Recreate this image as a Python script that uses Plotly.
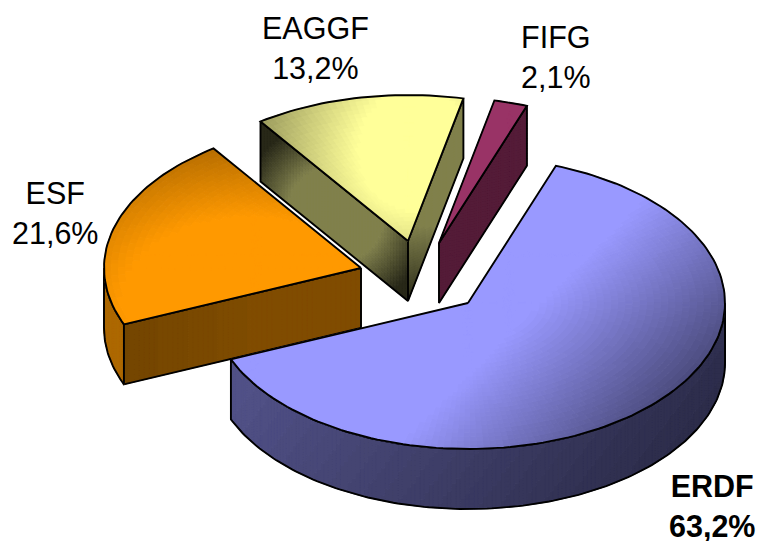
import numpy as np
import plotly.graph_objects as go

# ---- data ----
categories = ["ERDF", "ESF", "EAGGF", "FIFG"]
values = [63.2, 21.6, 13.2, 2.1]
percent_labels = ["63,2%", "21,6%", "13,2%", "2,1%"]

# ---- styling / layout ----
W, H = 757, 541
colors = {"ERDF": (0x99, 0x99, 0xFF), "ESF": (0xFF, 0x99, 0x00),
          "EAGGF": (0xFF, 0xFF, 0x99), "FIFG": (0x99, 0x33, 0x66)}
apex = {"ERDF": (468, 303), "ESF": (361, 268), "EAGGF": (408, 241), "FIFG": (439, 243)}
label_pos = {"ERDF": (712, 506), "ESF": (55, 213), "EAGGF": (315, 48), "FIFG": (556, 57)}
bold = {"ERDF": True}
RX, RY, DEPTH = 257, 146, 60
START = 20.0
LEVELS = 96
draw_order = ["EAGGF", "FIFG", "ESF", "ERDF"]


def radial(cx, cy, sx, sy, k, r0, fmin=0.15, fmax=1.0):
    def f(x, y):
        d = np.hypot((x - cx) / sx, (y - cy) / sy)
        return float(np.clip(1 - k * max(0.0, d - r0), fmin, fmax))
    return f


def linear(ax, ay, g0, span, k, top=1.0):
    def f(x, y):
        g = ax * x + ay * y
        return float(top - k * np.clip((g - g0) / span, 0, 1))
    return f


top_shade = {
    "ERDF": linear(0.7, 0.7, 590, 170, 0.55),
    "ESF": radial(250, 300, 170, 110, 0.45, 0.75),
    "EAGGF": radial(415, 150, 140, 150, 0.55, 0.4),
    "FIFG": lambda x, y: 1.0,
}
rim_shade = {
    "ERDF": linear(0.8, 0.6, 430, 400, 0.25, top=0.53),
    "ESF": radial(125, 330, 30, 60, 0.2, 0.2, fmax=0.68),
}
# first entry: face at the slice's start angle, second: face at its end angle
cut_shade = {
    "ERDF": (lambda x, y: 0.5, lambda x, y: 0.5),
    "ESF": (linear(-1, 0, -260, 140, 0.05, top=0.5), lambda x, y: 0.5),
    "EAGGF": (radial(335, 215, 80, 80, 0.6, -0.23, fmin=0.16, fmax=0.5),
              linear(0, 1, 225, 75, 0.32, top=0.5)),
    "FIFG": (lambda x, y: 0.55, lambda x, y: 0.55),
}

# ---- geometry helpers ----
total = sum(values)
spans = [v / total * 360 for v in values]
starts = START + np.concatenate([[0], np.cumsum(spans)[:-1]])
angles = {c: (s, s + sp) for c, s, sp in zip(categories, starts, spans)}


def rim(name, deg):
    ax, ay = apex[name]
    t = np.radians(deg)
    return ax + RX * np.sin(t), ay - RY * np.cos(t)


fig = go.Figure()


def add_cells(cells, base):
    """cells: list of (xs, ys, f); grouped by quantised shade so each level is one trace."""
    groups = {}
    for xs, ys, f in cells:
        groups.setdefault(int(round(f * LEVELS)), []).append((xs, ys))
    for lvl in sorted(groups):
        col = "rgb(%d,%d,%d)" % tuple(int(round(c * lvl / LEVELS)) for c in base)
        X, Y = [], []
        for xs, ys in groups[lvl]:
            X += [round(float(v), 1) for v in xs] + [round(float(xs[0]), 1), None]
            Y += [round(float(v), 1) for v in ys] + [round(float(ys[0]), 1), None]
        fig.add_trace(go.Scatter(x=X, y=Y, mode="lines", fill="toself", fillcolor=col,
                                 line=dict(color=col, width=1), hoverinfo="skip",
                                 showlegend=False))


def outline(xs, ys):
    fig.add_trace(go.Scatter(x=list(xs), y=list(ys), mode="lines",
                             line=dict(color="black", width=1.9), hoverinfo="skip",
                             showlegend=False))


def strip_cells(px, py, shade, nd=24):
    """Extruded band below the polyline px,py."""
    cells = []
    for i in range(len(px) - 1):
        for j in range(nd):
            d0, d1 = DEPTH * j / nd, DEPTH * (j + 1) / nd
            xs = [px[i], px[i + 1], px[i + 1], px[i]]
            ys = [py[i] + d0, py[i + 1] + d0, py[i + 1] + d1, py[i] + d1]
            cells.append((xs, ys, shade(np.mean(xs), np.mean(ys))))
    return cells


for name in draw_order:
    a0, a1 = angles[name]
    ax, ay = apex[name]
    base = colors[name]
    mid = rim(name, (a0 + a1) / 2)
    # cut faces: visible when the wedge lies above the cut edge on the screen
    for k, deg in enumerate((a0, a1)):
        ex, ey = rim(name, deg)
        slope = (ey - ay) / (ex - ax)
        if mid[1] < ay + slope * (mid[0] - ax):
            n = 48
            px = np.linspace(ax, ex, n + 1)
            py = np.linspace(ay, ey, n + 1)
            add_cells(strip_cells(px, py, cut_shade[name][k]), base)
            outline([ax, ex, ex, ax, ax], [ay, ey, ey + DEPTH, ay + DEPTH, ay])
    # outer rim: the part of the arc facing the viewer
    def_lo, def_hi = max(a0, 90), min(a1, 270)
    if def_hi > def_lo:
        th = np.linspace(def_lo, def_hi, max(10, int(def_hi - def_lo)))
        px, py = zip(*[rim(name, t) for t in th])
        add_cells(strip_cells(px, py, rim_shade[name]), base)
        outline(list(px) + [px[-1]] + [x for x in px[::-1]] + [px[0]],
                list(py) + [py[-1] + DEPTH] + [y + DEPTH for y in py[::-1]] + [py[0]])
    # top face
    nth = max(8, int((a1 - a0) / 1.5))
    th = np.linspace(a0, a1, nth + 1)
    nr = 36
    cells = []
    for i in range(nth):
        for j in range(nr):
            r0, r1 = j / nr, (j + 1) / nr
            p = []
            for t, r in ((th[i], r0), (th[i + 1], r0), (th[i + 1], r1), (th[i], r1)):
                ex, ey = rim(name, t)
                p.append((ax + (ex - ax) * r, ay + (ey - ay) * r))
            xs, ys = zip(*p)
            cells.append((xs, ys, top_shade[name](np.mean(xs), np.mean(ys))))
    add_cells(cells, base)
    ox, oy = zip(*[rim(name, t) for t in np.linspace(a0, a1, nth + 1)])
    outline([ax] + list(ox) + [ax], [ay] + list(oy) + [ay])

annotations = []
for c, p in zip(categories, percent_labels):
    txt = f"{c}<br>{p}"
    if bold.get(c):
        txt = f"<b>{c}</b><br><b>{p}</b>"
    annotations.append(dict(x=label_pos[c][0], y=label_pos[c][1], xref="x", yref="y", text=txt,
                            showarrow=False, align="center", xanchor="center", yanchor="middle",
                            font=dict(family="Liberation Sans", size=30.5, color="black")))

fig.update_layout(
    width=W, height=H, margin=dict(l=0, r=0, t=0, b=0), showlegend=False,
    paper_bgcolor="white", plot_bgcolor="white", annotations=annotations,
    xaxis=dict(range=[0, W], visible=False, fixedrange=True),
    yaxis=dict(range=[H, 0], visible=False, fixedrange=True),
)
fig.write_html("out.html", config={"displayModeBar": False},
               post_script="document.body.style.margin='0';document.body.style.overflow='hidden';")
